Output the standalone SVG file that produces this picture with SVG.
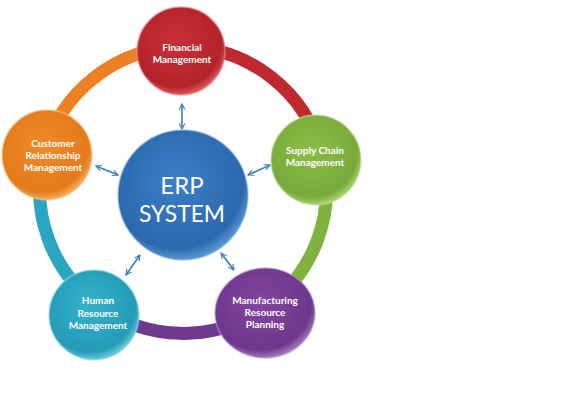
<svg xmlns="http://www.w3.org/2000/svg" width="578" height="406" viewBox="0 0 578 406">
<defs>
<radialGradient id="gBlue" cx="0.45" cy="0.4" r="0.6"><stop offset="0" stop-color="#3b7fc6"/><stop offset="0.85" stop-color="#2c68ad"/><stop offset="1" stop-color="#5b95d0"/></radialGradient>
<radialGradient id="gRed" cx="0.45" cy="0.4" r="0.6"><stop offset="0" stop-color="#c93036"/><stop offset="0.85" stop-color="#b3232a"/><stop offset="1" stop-color="#d9585c"/></radialGradient>
<radialGradient id="gOrange" cx="0.45" cy="0.4" r="0.6"><stop offset="0" stop-color="#f08a2a"/><stop offset="0.85" stop-color="#e47a1a"/><stop offset="1" stop-color="#f5ac5e"/></radialGradient>
<radialGradient id="gGreen" cx="0.45" cy="0.4" r="0.6"><stop offset="0" stop-color="#8cbd47"/><stop offset="0.85" stop-color="#79a93a"/><stop offset="1" stop-color="#a9d171"/></radialGradient>
<radialGradient id="gTeal" cx="0.45" cy="0.4" r="0.6"><stop offset="0" stop-color="#35b1cc"/><stop offset="0.85" stop-color="#259bb6"/><stop offset="1" stop-color="#6cc9dc"/></radialGradient>
<radialGradient id="gPurple" cx="0.45" cy="0.4" r="0.6"><stop offset="0" stop-color="#84459f"/><stop offset="0.85" stop-color="#6e368c"/><stop offset="1" stop-color="#a277b8"/></radialGradient>
<marker id="ah" viewBox="0 0 10 10" refX="9" refY="5" markerWidth="7" markerHeight="7" orient="auto-start-reverse" markerUnits="userSpaceOnUse"><path d="M1,1 L9,5 L1,9" fill="none" stroke="#3e7cc0" stroke-width="1.6"/></marker>
</defs>
<style>
.band{fill:none;stroke-width:13}
.arr{stroke:#3e7cc0;stroke-width:1.6;fill:none;marker-start:url(#ah);marker-end:url(#ah)}
.lbl{font-family:Lato,"Liberation Sans",sans-serif;font-weight:bold;font-size:10px;fill:#ffffff;text-anchor:middle}
.big{font-family:Lato,"Liberation Sans",sans-serif;font-size:24px;fill:#ffffff;text-anchor:middle}
.rim{stroke-width:1.5;stroke-opacity:0.6}
</style>
<rect width="578" height="406" fill="#ffffff"/>
<g id="ring">
<path class="band" stroke="#c0292f" d="M183,47 A143,143 0 0 1 322,155"/>
<path class="band" stroke="#80b23e" d="M322,155 A143,143 0 0 1 263,309"/>
<path class="band" stroke="#6f3a8e" d="M263,309 A143,143 0 0 1 99,306"/>
<path class="band" stroke="#2aa6c1" d="M99,306 A143,143 0 0 1 44,155"/>
<path class="band" stroke="#ec8022" d="M44,155 A143,143 0 0 1 183,47"/>
</g>
<g id="connectors">
<line class="arr" x1="182" y1="104" x2="182" y2="129"/>
<line class="arr" x1="96" y1="166" x2="118" y2="175"/>
<line class="arr" x1="248" y1="175" x2="270" y2="165"/>
<line class="arr" x1="140" y1="255" x2="126" y2="275"/>
<line class="arr" x1="221" y1="253" x2="234" y2="270"/>
</g>
<g id="erp">
<circle cx="183" cy="195" r="65" fill="url(#gBlue)" class="rim" stroke="#8fb8e2"/>
<text class="big" x="182" y="194">ERP</text>
<text class="big" x="182" y="222" textLength="86" lengthAdjust="spacingAndGlyphs">SYSTEM</text>
</g>
<g id="financial">
<circle cx="181" cy="51" r="44" fill="url(#gRed)" class="rim" stroke="#e98a8d"/>
<text class="lbl" x="182" y="51">Financial</text>
<text class="lbl" x="182" y="63">Management</text>
</g>
<g id="supply">
<circle cx="316" cy="160" r="45" fill="url(#gGreen)" class="rim" stroke="#c6e29e"/>
<text class="lbl" x="315" y="154">Supply Chain</text>
<text class="lbl" x="315" y="166">Management</text>
</g>
<g id="customer">
<circle cx="47" cy="155" r="45" fill="url(#gOrange)" class="rim" stroke="#f8c48c"/>
<text class="lbl" x="53" y="147">Customer</text>
<text class="lbl" x="53" y="159">Relationship</text>
<text class="lbl" x="53" y="171">Management</text>
</g>
<g id="human">
<circle cx="94" cy="315" r="45" fill="url(#gTeal)" class="rim" stroke="#9ad9e7"/>
<text class="lbl" x="98" y="304">Human</text>
<text class="lbl" x="98" y="317">Resource</text>
<text class="lbl" x="98" y="329">Management</text>
</g>
<g id="manufacturing">
<ellipse cx="265" cy="313" rx="50" ry="45" fill="url(#gPurple)" class="rim" stroke="#c0a0d0"/>
<text class="lbl" x="265" y="304">Manufacturing</text>
<text class="lbl" x="265" y="316">Resource</text>
<text class="lbl" x="265" y="328">Planning</text>
</g>
</svg>
